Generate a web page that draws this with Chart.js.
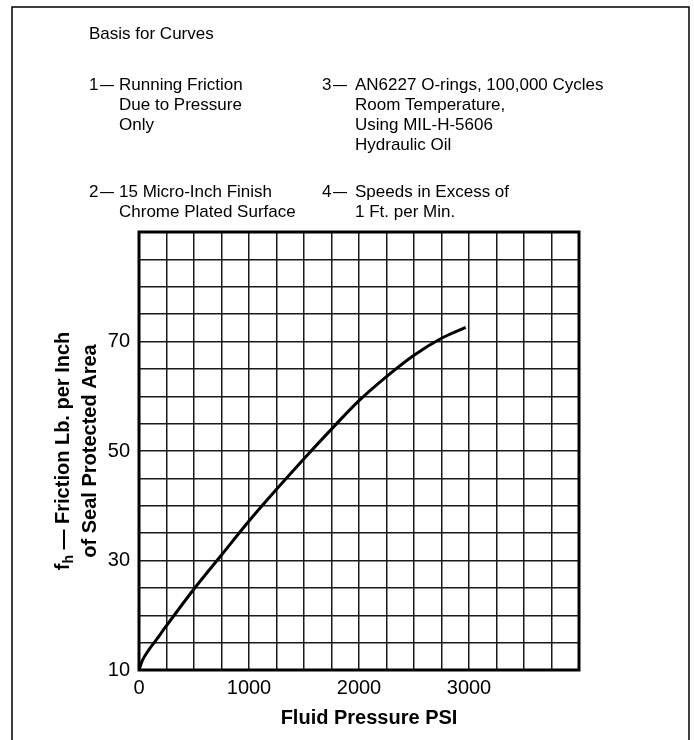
<!DOCTYPE html>
<html>
<head>
<meta charset="utf-8">
<script src="https://cdn.jsdelivr.net/npm/chart.js@4"></script>
<style>
  html, body { margin: 0; padding: 0; background: #fff; }
  canvas { display: block; }
</style>
</head>
<body>
<canvas id="myChart" width="694" height="740"></canvas>
<script>
// curve
const pressure = [0, 30, 80, 160, 250, 500, 750, 1000, 1250, 1500, 1750, 2000, 2250, 2500, 2750, 2970];
const friction = [10, 11.7, 13.4, 15.6, 18.1, 24.8, 31.0, 37.2, 43.0, 48.6, 54.0, 59.2, 63.6, 67.5, 70.6, 72.6];

const xLabels = [0, 1000, 2000, 3000];
const yLabels = [10, 30, 50, 70];

const notes = [
    { num: "Basis for Curves", lines: [] },
    { num: "1", lines: ["Running Friction", "Due to Pressure", "Only"] },
    { num: "3", lines: ["AN6227 O-rings, 100,000 Cycles", "Room Temperature,", "Using MIL-H-5606", "Hydraulic Oil"] },
    { num: "2", lines: ["15 Micro-Inch Finish", "Chrome Plated Surface"] },
    { num: "4", lines: ["Speeds in Excess of", "1 Ft. per Min."] }
];

const FONT = "'Liberation Sans', Arial, Helvetica, sans-serif";

const extras = {
    id: "extras",
    afterDraw(chart) {
        const ctx = chart.ctx;
        const a = chart.chartArea;
        ctx.save();

        // outer frame
        ctx.strokeStyle = "#000";
        ctx.lineWidth = 1.5;
        ctx.beginPath();
        ctx.moveTo(12, 745);
        ctx.lineTo(12, 7);
        ctx.lineTo(689, 7);
        ctx.lineTo(689, 745);
        ctx.stroke();

        // heavy border round the grid
        ctx.lineWidth = 3;
        ctx.strokeRect(a.left, a.top, a.right - a.left, a.bottom - a.top);

        // notes
        ctx.fillStyle = "#000";
        ctx.textBaseline = "alphabetic";
        ctx.font = "17px " + FONT;
        ctx.fillText(notes[0].num, 89, 39);
        const cols = [
            { n: 1, x: 89, tx: 119, y: 90 },
            { n: 2, x: 322, tx: 355, y: 90 },
            { n: 3, x: 89, tx: 119, y: 197 },
            { n: 4, x: 322, tx: 355, y: 197 }
        ];
        cols.forEach(c => {
            const note = notes[c.n];
            ctx.fillText(note.num, c.x, c.y);
            ctx.fillText("\u2014", c.x + 11, c.y, 14);
            note.lines.forEach((l, i) => ctx.fillText(l, c.tx, c.y + i * 20));
        });

        // x title
        ctx.font = "bold 20px " + FONT;
        ctx.textAlign = "center";
        ctx.textBaseline = "middle";
        ctx.fillText("Fluid Pressure PSI", 369, 718);

        // y title, two lines, with subscript h
        const cy = (a.top + a.bottom) / 2;
        ctx.translate(63, cy);
        ctx.rotate(-Math.PI / 2);
        const rest = " \u2014 Friction Lb. per Inch";
        ctx.font = "bold 20px " + FONT;
        const wf = ctx.measureText("f").width;
        const wr = ctx.measureText(rest).width;
        ctx.font = "bold 14px " + FONT;
        const wh = ctx.measureText("h").width;
        const total = wf + wh + wr;
        let x0 = -total / 2;
        ctx.textAlign = "left";
        ctx.font = "bold 20px " + FONT;
        ctx.fillText("f", x0, 0);
        ctx.font = "bold 14px " + FONT;
        ctx.fillText("h", x0 + wf, 6);
        ctx.font = "bold 20px " + FONT;
        ctx.fillText(rest, x0 + wf + wh, 0);
        ctx.textAlign = "center";
        ctx.fillText("of Seal Protected Area", 0, 27);

        ctx.restore();
    }
};

const myChartRef = document.getElementById("myChart").getContext("2d");
new Chart(myChartRef, {
    type: "line",
    data: {
        datasets: [{
            data: pressure.map((p, i) => ({ x: p, y: friction[i] })),
            borderColor: "#000",
            borderWidth: 3,
            pointRadius: 0,
            fill: false,
            cubicInterpolationMode: "monotone"
        }]
    },
    options: {
        responsive: false,
        animation: false,
        layout: { padding: { top: 232, right: 115, left: 0, bottom: 0 } },
        plugins: { legend: { display: false }, tooltip: { enabled: false } },
        scales: {
            x: {
                type: "linear",
                min: 0,
                max: 4000,
                afterFit: s => { s.height = 70; },
                grid: { color: "#1a1a1a", lineWidth: 1.5, drawTicks: false },
                border: { display: false },
                ticks: {
                    stepSize: 250,
                    autoSkip: false,
                    maxRotation: 0,
                    padding: 6,
                    color: "#000",
                    font: { family: FONT, size: 20 },
                    callback: v => xLabels.includes(v) ? String(v) : ""
                }
            },
            y: {
                min: 10,
                max: 90,
                afterFit: s => { s.width = 139; },
                grid: { color: "#1a1a1a", lineWidth: 1.5, drawTicks: false },
                border: { display: false },
                ticks: {
                    stepSize: 5,
                    autoSkip: false,
                    padding: 9,
                    color: "#000",
                    font: { family: FONT, size: 20 },
                    callback: v => yLabels.includes(v) ? String(v) : ""
                }
            }
        }
    },
    plugins: [extras]
});
</script>
</body>
</html>
